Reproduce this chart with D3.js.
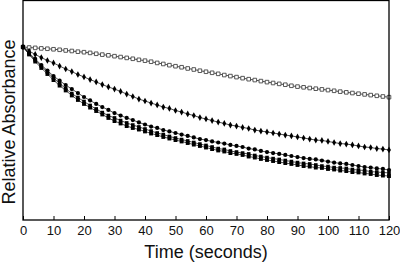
<!DOCTYPE html>
<html>
<head>
<meta charset="utf-8">
<script src="https://cdn.jsdelivr.net/npm/d3@7"></script>
<style>
  body { margin: 0; background: #fff; }
  svg { display: block; font-family: "Liberation Sans", Arial, sans-serif; }
</style>
</head>
<body>
<div id="chart"></div>
<script>
// sampled every 2 s, 0..120
const times = d3.range(0, 121, 2);
const xTicks = [0, 10, 20, 30, 40, 50, 60, 70, 80, 90, 100, 110, 120];

const openSquares = [1.000, 0.997, 0.995, 0.992, 0.990, 0.987, 0.984, 0.980, 0.977, 0.973,
  0.970, 0.966, 0.961, 0.956, 0.952, 0.947, 0.942, 0.937, 0.932, 0.926,
  0.921, 0.915, 0.908, 0.902, 0.895, 0.889, 0.883, 0.876, 0.870, 0.863,
  0.857, 0.851, 0.845, 0.838, 0.832, 0.826, 0.820, 0.814, 0.809, 0.803,
  0.797, 0.792, 0.787, 0.782, 0.776, 0.771, 0.767, 0.763, 0.759, 0.755,
  0.751, 0.747, 0.742, 0.738, 0.734, 0.730, 0.726, 0.722, 0.718, 0.714, 0.710];

const crosses = [1.000, 0.977, 0.957, 0.939, 0.922, 0.908, 0.890, 0.873, 0.858, 0.841,
  0.827, 0.812, 0.798, 0.783, 0.769, 0.757, 0.743, 0.728, 0.714, 0.699,
  0.688, 0.676, 0.665, 0.653, 0.645, 0.633, 0.624, 0.613, 0.604, 0.592,
  0.584, 0.575, 0.566, 0.558, 0.549, 0.543, 0.535, 0.529, 0.520, 0.514,
  0.509, 0.503, 0.497, 0.491, 0.486, 0.480, 0.474, 0.468, 0.462, 0.460,
  0.454, 0.448, 0.442, 0.439, 0.434, 0.428, 0.422, 0.419, 0.413, 0.410, 0.405];

const circles = [1.000, 0.965, 0.931, 0.896, 0.864, 0.832, 0.806, 0.780, 0.757, 0.734,
  0.711, 0.691, 0.671, 0.653, 0.636, 0.618, 0.604, 0.590, 0.578, 0.564,
  0.552, 0.540, 0.532, 0.520, 0.512, 0.503, 0.494, 0.486, 0.477, 0.468,
  0.462, 0.454, 0.448, 0.442, 0.434, 0.428, 0.422, 0.413, 0.408, 0.399,
  0.393, 0.387, 0.382, 0.376, 0.370, 0.364, 0.358, 0.353, 0.350, 0.344,
  0.338, 0.332, 0.327, 0.324, 0.318, 0.312, 0.306, 0.303, 0.298, 0.295, 0.289];

const squaresA = [1.000, 0.960, 0.925, 0.890, 0.855, 0.821, 0.789, 0.760, 0.731, 0.708,
  0.685, 0.662, 0.642, 0.621, 0.604, 0.590, 0.575, 0.561, 0.549, 0.538,
  0.526, 0.514, 0.503, 0.494, 0.483, 0.474, 0.465, 0.457, 0.448, 0.439,
  0.431, 0.422, 0.413, 0.408, 0.399, 0.393, 0.387, 0.382, 0.373, 0.367,
  0.361, 0.355, 0.350, 0.344, 0.338, 0.332, 0.327, 0.324, 0.318, 0.312,
  0.309, 0.303, 0.301, 0.298, 0.292, 0.289, 0.286, 0.280, 0.277, 0.275, 0.272];

const squaresB = [1.000, 0.957, 0.916, 0.879, 0.844, 0.809, 0.777, 0.749, 0.720, 0.694,
  0.671, 0.650, 0.630, 0.610, 0.590, 0.572, 0.558, 0.543, 0.532, 0.523,
  0.512, 0.500, 0.491, 0.480, 0.471, 0.462, 0.454, 0.445, 0.436, 0.428,
  0.419, 0.410, 0.402, 0.396, 0.387, 0.382, 0.376, 0.367, 0.361, 0.353,
  0.347, 0.341, 0.335, 0.329, 0.324, 0.318, 0.312, 0.309, 0.303, 0.301,
  0.295, 0.292, 0.286, 0.283, 0.277, 0.275, 0.269, 0.266, 0.260, 0.257, 0.254];

const width = 400, height = 262;
const margin = {top: 1, right: 11, bottom: 42, left: 23};

const svg = d3.select('#chart').append('svg')
  .attr('width', width)
  .attr('height', height);

const x = d3.scaleLinear()
  .domain([0, 120])
  .range([margin.left, width - margin.right]);

const y = d3.scaleLinear()
  .domain([0, 1.266])
  .range([height - margin.bottom, margin.top]);

const series = [
  {values: openSquares, symbol: d3.symbolSquare, size: 13, fill: '#fff', stroke: '#444'},
  {values: crosses, symbol: d3.symbolDiamond, size: 13, fill: '#000', stroke: 'none'},
  {values: circles, symbol: d3.symbolCircle, size: 14, fill: '#000', stroke: 'none'},
  {values: squaresA, symbol: d3.symbolSquare, size: 13, fill: '#000', stroke: 'none'},
  {values: squaresB, symbol: d3.symbolSquare, size: 15, fill: '#000', stroke: 'none'}
];

const line = d3.line()
  .x((d, i) => x(times[i]))
  .y(d => y(d));

const plot = svg.append('g');

series.forEach(s => {
  plot.append('path')
    .datum(s.values)
    .attr('d', line)
    .attr('fill', 'none')
    .attr('stroke', '#000')
    .attr('stroke-width', 0.7);

  plot.selectAll(null)
    .data(s.values)
    .enter().append('path')
    .attr('transform', (d, i) => 'translate(' + x(times[i]) + ',' + y(d) + ')')
    .attr('d', d3.symbol().type(s.symbol).size(s.size))
    .attr('fill', s.fill)
    .attr('stroke', s.stroke)
    .attr('stroke-width', 0.9);
});

// frame
svg.append('rect')
  .attr('x', margin.left)
  .attr('y', margin.top - 0.5)
  .attr('width', width - margin.right - margin.left)
  .attr('height', height - margin.bottom - margin.top + 0.5)
  .attr('fill', 'none')
  .attr('stroke', '#000')
  .attr('stroke-width', 1.3);

// x axis, ticks pointing inward
const xAxis = svg.append('g')
  .attr('transform', 'translate(0,' + (height - margin.bottom) + ')')
  .call(d3.axisBottom(x).tickValues(xTicks).tickSizeInner(-4).tickSizeOuter(0).tickPadding(6));
xAxis.select('.domain').remove();
xAxis.selectAll('line').attr('stroke', '#000').attr('stroke-width', 1);
xAxis.selectAll('text')
  .attr('font-size', 13)
  .attr('font-family', '"Liberation Sans", Arial, sans-serif')
  .attr('fill', '#111');

svg.append('text')
  .attr('x', (margin.left + width - margin.right) / 2)
  .attr('y', 258)
  .attr('text-anchor', 'middle')
  .attr('font-size', 18)
  .attr('fill', '#111')
  .text('Time (seconds)');

svg.append('text')
  .attr('transform', 'translate(15,122) rotate(-90)')
  .attr('text-anchor', 'middle')
  .attr('font-size', 18)
  .attr('fill', '#111')
  .text('Relative Absorbance');
</script>
</body>
</html>
